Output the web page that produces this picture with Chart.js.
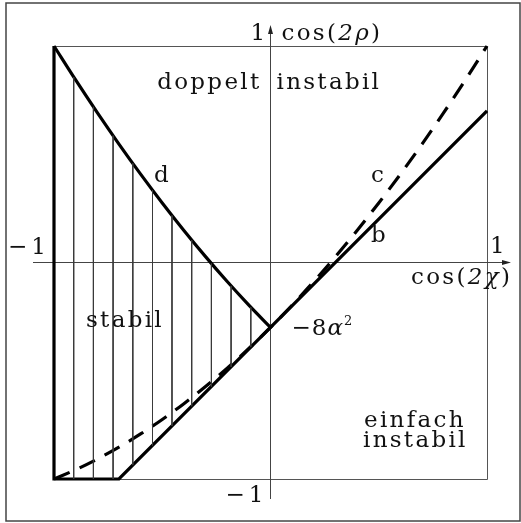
<!DOCTYPE html>
<html>
<head>
<meta charset="utf-8">
<script src="https://cdn.jsdelivr.net/npm/chart.js@4/dist/chart.umd.min.js"></script>
<style>
  html, body { margin: 0; padding: 0; background: #fff; }
  canvas { display: block; }
</style>
</head>
<body>
<canvas id="diagram" width="521" height="523"></canvas>
<script>
// Stability diagram in the cos(2χ) / cos(2ρ) plane.

// Intersection of the boundary lines with the cos(2ρ) axis: −8α²
const intercept = -0.3;

// Axis range and end labels
const axisMin = -1;
const axisMax = 1;
const tickLabelsX = ['−1', '1'];
const tickLabelsY = ['−1', '1'];

// Outer boundary: left edge, bottom segment and straight line b
const boundaryX = [-1, -1, -0.7, 1];
const boundaryY = [1, -1, -1, 0.7];

// Curve d (upper edge of the stable region)
const curveDX = [-1, -0.9, -0.8, -0.7, -0.6, -0.5, -0.4, -0.3, -0.2, -0.1, 0];
const curveDY = [1.0, 0.843, 0.692, 0.547, 0.408, 0.275, 0.148, 0.027, -0.088, -0.197, -0.3];

// Curve c (dashed)
const curveCX = [-1, -0.9, -0.8, -0.7, -0.6, -0.5, -0.4, -0.3, -0.2, -0.1, 0,
                 0.1, 0.2, 0.3, 0.4, 0.5, 0.6, 0.7, 0.8, 0.9, 1];
const curveCY = [-1.0, -0.957, -0.908, -0.853, -0.792, -0.725, -0.652, -0.573, -0.488, -0.397, -0.3,
                 -0.197, -0.088, 0.027, 0.148, 0.275, 0.408, 0.547, 0.692, 0.843, 1.0];

// Vertical hatching of the stable region
const hatchX = [-0.909, -0.818, -0.727, -0.636, -0.545, -0.455, -0.364, -0.273, -0.182, -0.091];
const hatchTop = [0.857, 0.719, 0.586, 0.458, 0.335, 0.217, 0.103, -0.005, -0.108, -0.207];
const hatchBottom = [-1, -1, -1, -0.936, -0.845, -0.755, -0.664, -0.573, -0.482, -0.391];

const pts = (xs, ys) => xs.map((x, i) => ({ x, y: ys[i] }));
const hatchData = [];
hatchX.forEach((x, i) => {
  hatchData.push({ x, y: hatchTop[i] }, { x, y: hatchBottom[i] }, { x, y: null });
});

const SERIF = '"DejaVu Serif", serif';
const F = `23px ${SERIF}`;
const FI = `italic 23px ${SERIF}`;
const FS = `13px ${SERIF}`;

function drawRuns(ctx, x, y, parts, align, spacing) {
  ctx.letterSpacing = spacing || '2.3px';
  let w = 0;
  parts.forEach(p => { ctx.font = p[1]; w += ctx.measureText(p[0]).width; });
  let cx = align === 'right' ? x - w : x;
  parts.forEach(p => {
    ctx.font = p[1];
    ctx.fillText(p[0], cx, y + (p[2] || 0));
    cx += ctx.measureText(p[0]).width;
  });
}

const decor = {
  id: 'decor',
  beforeDatasetsDraw(chart) {
    const { ctx, chartArea: a, scales: { x, y } } = chart;
    const x0 = x.getPixelForValue(0);
    const y0 = y.getPixelForValue(0);
    ctx.save();
    // outer frame
    ctx.strokeStyle = '#444';
    ctx.lineWidth = 1.5;
    ctx.strokeRect(6, 3, 514, 518);
    // plot box
    ctx.strokeStyle = '#555';
    ctx.lineWidth = 1;
    ctx.beginPath();
    ctx.moveTo(a.left, a.top + 0.5); ctx.lineTo(a.right + 0.5, a.top + 0.5);
    ctx.lineTo(a.right + 0.5, a.bottom + 0.5); ctx.lineTo(a.left, a.bottom + 0.5);
    ctx.stroke();
    // axes through the origin
    ctx.strokeStyle = '#444';
    ctx.beginPath();
    ctx.moveTo(33, y0); ctx.lineTo(506, y0);
    ctx.moveTo(x0, 499); ctx.lineTo(x0, 31);
    ctx.stroke();
    ctx.fillStyle = '#222';
    ctx.beginPath();
    ctx.moveTo(511, y0); ctx.lineTo(502, y0 - 2.5); ctx.lineTo(502, y0 + 2.5); ctx.closePath();
    ctx.moveTo(x0, 25); ctx.lineTo(x0 - 2.5, 34); ctx.lineTo(x0 + 2.5, 34); ctx.closePath();
    ctx.fill();
    ctx.restore();
  },
  afterDatasetsDraw(chart) {
    const { ctx, scales: { x, y } } = chart;
    const x0 = x.getPixelForValue(0);
    const y0 = y.getPixelForValue(0);
    const yi = y.getPixelForValue(intercept);
    ctx.save();
    ctx.fillStyle = '#111';
    ctx.textBaseline = 'alphabetic';
    // axis end labels
    drawRuns(ctx, x0 - 3, 40, [[tickLabelsY[1], F]], 'right');
    drawRuns(ctx, x0 - 3, 502, [[tickLabelsY[0], F]], 'right', '4px');
    drawRuns(ctx, x.getPixelForValue(axisMin) - 4, y0 - 9, [[tickLabelsX[0], F]], 'right', '4px');
    drawRuns(ctx, x.getPixelForValue(axisMax) + 3, y0 - 10, [[tickLabelsX[1], F]]);
    // axis titles
    drawRuns(ctx, x0 + 11, 40, [['cos(', F], ['2ρ', FI], [')', F]]);
    drawRuns(ctx, 411, y0 + 21, [['cos(', F], ['2χ', FI], [')', F]]);
    // intercept label
    drawRuns(ctx, x0 + 21, yi + 8, [['−', F], ['8', F], ['α', FI], ['2', FS, -10]], null, '1px');
    // region names
    drawRuns(ctx, x0 - 9, 89, [['doppelt', F]], 'right');
    drawRuns(ctx, x0 + 6, 89, [['instabil', F]]);
    drawRuns(ctx, 86, 327, [['stabil', F]]);
    drawRuns(ctx, 364, 427, [['einfach', F]]);
    drawRuns(ctx, 363, 447, [['instabil', F]]);
    // curve names
    drawRuns(ctx, 154, 182, [['d', F]]);
    drawRuns(ctx, 371, 182, [['c', F]]);
    drawRuns(ctx, 371, 242, [['b', F]]);
    ctx.restore();
  }
};

new Chart(document.getElementById('diagram'), {
  type: 'line',
  data: {
    datasets: [
      {
        label: 'Schraffur',
        data: hatchData,
        borderColor: '#3a3a3a',
        borderWidth: 1,
        spanGaps: false,
        tension: 0,
        clip: false
      },
      {
        label: 'Rand',
        data: pts(boundaryX, boundaryY),
        borderColor: '#000',
        borderWidth: 3.2,
        borderJoinStyle: 'miter',
        tension: 0,
        clip: false
      },
      {
        label: 'd',
        data: pts(curveDX, curveDY),
        borderColor: '#000',
        borderWidth: 3.2,
        cubicInterpolationMode: 'monotone',
        clip: false
      },
      {
        label: 'c',
        data: pts(curveCX, curveCY),
        borderColor: '#000',
        borderWidth: 3.2,
        borderDash: [17, 11],
        cubicInterpolationMode: 'monotone',
        clip: false
      }
    ]
  },
  options: {
    responsive: false,
    animation: false,
    devicePixelRatio: 1,
    layout: { padding: { left: 54, right: 34, top: 46, bottom: 44 } },
    scales: {
      x: { type: 'linear', min: axisMin, max: axisMax, display: false },
      y: { type: 'linear', min: axisMin, max: axisMax, display: false }
    },
    elements: { point: { radius: 0, hoverRadius: 0 } },
    plugins: { legend: { display: false }, tooltip: { enabled: false } },
    events: []
  },
  plugins: [decor]
});
</script>
</body>
</html>
